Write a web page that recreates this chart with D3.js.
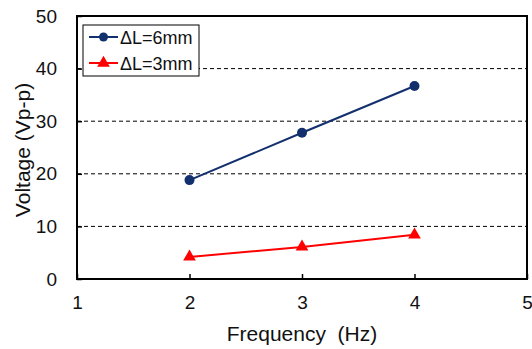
<!DOCTYPE html>
<html><head><meta charset="utf-8">
<script src="https://cdn.jsdelivr.net/npm/d3@7"></script>
<style>body{margin:0;background:#fff;}svg{display:block;font-family:"Liberation Sans",Arial,sans-serif;}</style>
</head><body>
<script>
const frequency = [2, 3, 4];
const series6mm = [18.8, 27.8, 36.7];
const series3mm = [4.2, 6.1, 8.4];
const seriesNames = ["\u0394L=6mm", "\u0394L=3mm"];
const xTicks = [1, 2, 3, 4, 5];
const yTicks = [0, 10, 20, 30, 40, 50];
const gridValues = [10, 20, 30, 40];

const W = 532, H = 349;
const m = {left: 77, right: 5, top: 16, bottom: 70};
const svg = d3.select("body").append("svg").attr("width", W).attr("height", H);
const x = d3.scaleLinear().domain([1, 5]).range([m.left, W - m.right]);
const y = d3.scaleLinear().domain([0, 50]).range([H - m.bottom, m.top]);

// gridlines
svg.append("g").selectAll("line").data(gridValues).join("line")
  .attr("x1", x(1)).attr("x2", x(5)).attr("y1", d => y(d)).attr("y2", d => y(d))
  .attr("stroke", "#000").attr("stroke-width", 1).attr("stroke-dasharray", "4,3");

// axes with inward ticks
const yAxis = svg.append("g").attr("transform", `translate(${x(1)},0)`)
  .call(d3.axisLeft(y).tickValues(yTicks).tickFormat(d3.format("d")).tickSizeInner(-5).tickSizeOuter(0).tickPadding(20));
const xAxis = svg.append("g").attr("transform", `translate(0,${y(0)})`)
  .call(d3.axisBottom(x).tickValues(xTicks).tickFormat(d3.format("d")).tickSizeInner(-5).tickSizeOuter(0).tickPadding(17));
[yAxis, xAxis].forEach(a => {
  a.select(".domain").remove();
  a.selectAll("line").attr("stroke", "#000").attr("stroke-width", 1.5);
  a.selectAll("text").attr("font-size", 19).attr("fill", "#111").attr("font-family", "Liberation Sans, Arial, sans-serif");
});

// frame
svg.append("rect").attr("x", x(1)).attr("y", y(50)).attr("width", x(5) - x(1)).attr("height", y(0) - y(50))
  .attr("fill", "none").attr("stroke", "#000").attr("stroke-width", 2);

const blue = "#13306e", red = "#ff0000";
const line = d3.line().x(d => x(d[0])).y(d => y(d[1]));
const d6 = frequency.map((f, i) => [f, series6mm[i]]);
const d3mm = frequency.map((f, i) => [f, series3mm[i]]);

svg.append("path").datum(d6).attr("d", line).attr("fill", "none").attr("stroke", blue).attr("stroke-width", 2);
svg.append("g").selectAll("circle").data(d6).join("circle")
  .attr("cx", d => x(d[0])).attr("cy", d => y(d[1])).attr("r", 5).attr("fill", blue);

svg.append("path").datum(d3mm).attr("d", line).attr("fill", "none").attr("stroke", red).attr("stroke-width", 2);
const tri = d3.symbol().type(d3.symbolTriangle).size(70);
svg.append("g").selectAll("path").data(d3mm).join("path")
  .attr("d", tri).attr("transform", d => `translate(${x(d[0])},${y(d[1])})`).attr("fill", red);

// legend
const lg = svg.append("g");
lg.append("rect").attr("x", 83).attr("y", 25).attr("width", 116).attr("height", 51)
  .attr("fill", "#fff").attr("stroke", "#000").attr("stroke-width", 1);
const colors = [blue, red];
seriesNames.forEach((name, i) => {
  const cy = 37 + i * 26;
  lg.append("line").attr("x1", 89).attr("x2", 118).attr("y1", cy).attr("y2", cy)
    .attr("stroke", colors[i]).attr("stroke-width", 2);
  if (i === 0) lg.append("circle").attr("cx", 103.5).attr("cy", cy).attr("r", 4.5).attr("fill", blue);
  else lg.append("path").attr("d", tri).attr("transform", `translate(103.5,${cy})`).attr("fill", red);
  lg.append("text").attr("x", 120).attr("y", cy + 6.5).attr("font-size", 18).attr("fill", "#111").text(name);
});

// titles
svg.append("text").attr("x", (x(1) + x(5)) / 2).attr("y", 341).attr("text-anchor", "middle")
  .attr("font-size", 21).attr("fill", "#111").attr("xml:space", "preserve").text("Frequency  (Hz)");
svg.append("text").attr("transform", `translate(30,150) rotate(-90)`).attr("text-anchor", "middle")
  .attr("font-size", 21).attr("fill", "#111").text("Voltage (Vp-p)");
</script>
</body></html>
